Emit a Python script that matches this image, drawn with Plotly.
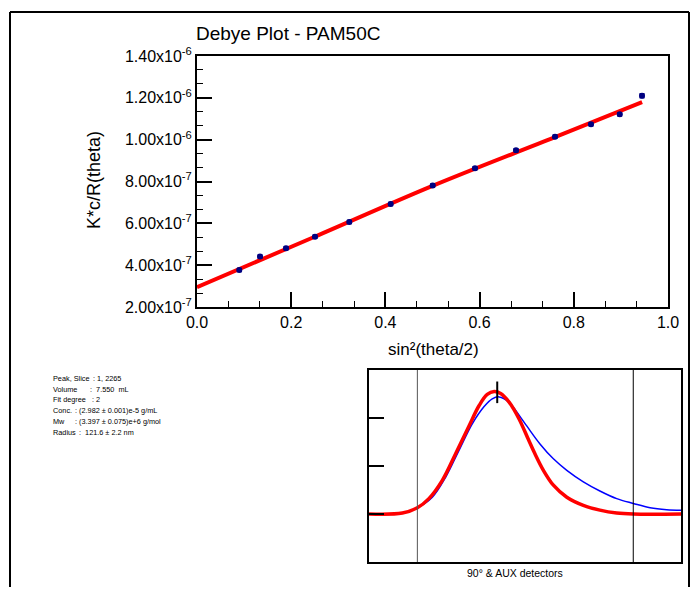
import plotly.graph_objects as go

# page is 698x595; the browser body keeps an 8px margin, so the figure is 682x579
PAGE_W, PAGE_H = 698, 595
OFF = 8
W, H = PAGE_W - 2 * OFF, PAGE_H - 2 * OFF
FONT = "Liberation Sans, Arial, sans-serif"

# ---------------- Debye plot data ----------------
sin2 = [0.0898, 0.1338, 0.1890, 0.2505, 0.3234, 0.4112, 0.5004,
        0.5902, 0.6773, 0.7601, 0.8365, 0.8975, 0.9448]
kcr = [0.377e-6, 0.441e-6, 0.481e-6, 0.536e-6, 0.6065e-6, 0.6925e-6, 0.781e-6,
       0.863e-6, 0.949e-6, 1.014e-6, 1.0735e-6, 1.121e-6, 1.210e-6]
kcr_err = [0.011e-6, 0.011e-6, 0.011e-6, 0.011e-6, 0.011e-6, 0.011e-6, 0.011e-6,
           0.011e-6, 0.011e-6, 0.011e-6, 0.011e-6, 0.011e-6, 0.013e-6]
fit_x = [0.0, 0.25, 0.5, 0.76, 0.945]
fit_y = [0.295e-6, 0.536e-6, 0.779e-6, 1.012e-6, 1.179e-6]

y_tickvals = [2e-7, 4e-7, 6e-7, 8e-7, 1.0e-6, 1.2e-6, 1.4e-6]
y_ticktext = ["2.00x10<sup>-7</sup>", "4.00x10<sup>-7</sup>", "6.00x10<sup>-7</sup>",
              "8.00x10<sup>-7</sup>", "1.00x10<sup>-6</sup>", "1.20x10<sup>-6</sup>",
              "1.40x10<sup>-6</sup>"]
x_tickvals = [0.0, 0.2, 0.4, 0.6, 0.8, 1.0]
x_ticktext = ["0.0", "0.2", "0.4", "0.6", "0.8", "1.0"]

# ---------------- Detector inset data ----------------
red_x = [0, 10.7, 15.5, 19.2, 23.5, 27.8, 32.1, 35.3, 37.9, 40.1, 42.2, 44.9,
         48.1, 51.1, 53.0, 55.9, 59.1, 63.4, 68.7, 74.0, 79.4, 84.7, 100]
red_y = [1.00, 1.02, 1.13, 1.32, 1.70, 2.26, 2.84, 3.26, 3.49, 3.55, 3.51, 3.33,
         2.98, 2.55, 2.28, 1.91, 1.60, 1.35, 1.18, 1.08, 1.02, 1.00, 1.00]
blue_x = [0, 10.7, 15.5, 20.3, 24.6, 28.8, 33.1, 36.9, 39.5, 41.7, 44.9, 46.3,
          50.5, 54.8, 59.1, 63.4, 68.7, 74.0, 79.4, 84.7, 90.1, 95.4, 100]
blue_y = [1.00, 1.02, 1.13, 1.35, 1.77, 2.32, 2.88, 3.24, 3.40, 3.44, 3.33, 3.22,
          2.84, 2.46, 2.15, 1.91, 1.67, 1.48, 1.32, 1.22, 1.13, 1.09, 1.08]
limit_left = 15.5
limit_right = 84.7
peak_pos = 41.1
peak_mark = [3.31, 3.76]

info_labels = ["Peak, Slice", "Volume", "Fit degree", "Conc.", "Mw", "Radius"]
info_values = [": 1, 2265", ":  7.550  mL", ": 2", ": (2.982 \u00b1 0.001)e-5 g/mL",
               ": (3.397 \u00b1 0.075)e+6 g/mol", ":  121.6 \u00b1 2.2 nm"]
info_colon_px = [91, 88, 90, 73, 73, 77]
info_y_px = [378, 389, 399.5, 410.5, 421, 432]


def px(x):
    """page pixel x -> paper fraction"""
    return (x - OFF) / W


def py(y):
    """page pixel y (from top) -> paper fraction"""
    return 1 - (y - OFF) / H


fig = go.Figure()

fig.add_trace(go.Scatter(
    x=fit_x, y=fit_y, mode="lines", line=dict(color="#ff0000", width=4, shape="spline"),
    xaxis="x", yaxis="y", hoverinfo="skip", showlegend=False))
fig.add_trace(go.Scatter(
    x=sin2, y=kcr, mode="markers",
    marker=dict(color="#000080", size=6),
    error_y=dict(type="data", array=kcr_err, color="#000080", thickness=5, width=0),
    xaxis="x", yaxis="y", showlegend=False))
fig.add_trace(go.Scatter(
    x=blue_x, y=blue_y, mode="lines", line=dict(color="#0000ff", width=1.5, shape="spline"),
    xaxis="x2", yaxis="y2", showlegend=False))
fig.add_trace(go.Scatter(
    x=red_x, y=red_y, mode="lines", line=dict(color="#ff0000", width=3.5, shape="spline"),
    xaxis="x2", yaxis="y2", showlegend=False))

shapes = [
    # outer frame
    dict(type="line", xref="paper", yref="paper", x0=px(10), x1=px(10), y0=0, y1=py(12),
         line=dict(color="black", width=2)),
    dict(type="line", xref="paper", yref="paper", x0=px(10), x1=px(689), y0=py(12), y1=py(12),
         line=dict(color="black", width=2)),
    dict(type="line", xref="paper", yref="paper", x0=px(689), x1=px(689), y0=0, y1=py(12),
         line=dict(color="black", width=2)),
    # inset vertical limit lines and peak marker
    dict(type="line", xref="x2", yref="y2", x0=limit_left, x1=limit_left, y0=0, y1=4,
         line=dict(color="#555555", width=1)),
    dict(type="line", xref="x2", yref="y2", x0=limit_right, x1=limit_right, y0=0, y1=4,
         line=dict(color="black", width=1)),
    dict(type="line", xref="x2", yref="y2", x0=peak_pos, x1=peak_pos, y0=peak_mark[0], y1=peak_mark[1],
         line=dict(color="black", width=2)),
]

annotations = [
    dict(text="Debye Plot - PAM50C", xref="paper", yref="paper", x=px(288), y=py(33),
         showarrow=False, font=dict(size=19, color="black", family=FONT), xanchor="center", yanchor="middle"),
    dict(text="K*c/R(theta)", xref="paper", yref="paper", x=px(94), y=py(180), textangle=-90,
         showarrow=False, font=dict(size=18, color="black", family=FONT), xanchor="center", yanchor="middle"),
    dict(text="sin\u00b2(theta/2)", xref="paper", yref="paper", x=px(433), y=py(349),
         showarrow=False, font=dict(size=17, color="black", family=FONT), xanchor="center", yanchor="middle"),
    dict(text="90\u00b0 & AUX detectors", xref="paper", yref="paper", x=px(515), y=py(573),
         showarrow=False, font=dict(size=10.5, color="black", family=FONT), xanchor="center", yanchor="middle"),
]
for lab, val, cx, yy in zip(info_labels, info_values, info_colon_px, info_y_px):
    annotations.append(dict(text=lab, xref="paper", yref="paper", x=px(51), y=py(yy), showarrow=False,
                            font=dict(size=7.3, color="black", family=FONT), xanchor="left", yanchor="middle"))
    annotations.append(dict(text=val, xref="paper", yref="paper", x=px(cx), y=py(yy), showarrow=False,
                            font=dict(size=7.3, color="black", family=FONT), xanchor="left", yanchor="middle"))

fig.update_layout(
    template="none",
    width=W, height=H, autosize=False,
    margin=dict(l=0, r=0, t=0, b=0, pad=0, autoexpand=False),
    paper_bgcolor="white", plot_bgcolor="rgba(0,0,0,0)",
    font=dict(family=FONT, color="black"),
    showlegend=False,
    shapes=shapes, annotations=annotations,
    xaxis=dict(domain=[px(197), px(668)], anchor="y", range=[0, 1], automargin=False,
               tickvals=x_tickvals, ticktext=x_ticktext, ticks="inside", ticklen=15, tickwidth=2,
               tickcolor="black", showline=True, linecolor="black", linewidth=2, mirror=True,
               showgrid=False, zeroline=False, tickfont=dict(size=16, family=FONT, color="black"),
               minor=dict(tick0=0, dtick=0.2 / 3, ticks="inside", ticklen=6, tickwidth=1,
                          tickcolor="black", showgrid=False)),
    yaxis=dict(domain=[py(307), py(56)], anchor="x", range=[2e-7, 1.4e-6], automargin=False,
               tickvals=y_tickvals, ticktext=y_ticktext, ticks="inside", ticklen=15, tickwidth=2,
               tickcolor="black", showline=True, linecolor="black", linewidth=2, mirror=True,
               showgrid=False, zeroline=False, tickfont=dict(size=16, family=FONT, color="black"),
               minor=dict(tick0=2e-7, dtick=2e-7 / 3, ticks="inside", ticklen=6, tickwidth=1,
                          tickcolor="black", showgrid=False)),
    xaxis2=dict(domain=[px(369), px(681)], anchor="y2", range=[0, 100], automargin=False,
                showticklabels=False, ticks="", showline=True, linecolor="black", linewidth=2,
                mirror=True, showgrid=False, zeroline=False),
    yaxis2=dict(domain=[py(562), py(370)], anchor="x2", range=[0, 4], automargin=False,
                tickvals=[1, 2, 3], showticklabels=False, ticks="inside", ticklen=15, tickwidth=2,
                tickcolor="black", showline=True, linecolor="black", linewidth=2, mirror=True,
                showgrid=False, zeroline=False),
)

fig.write_html("out.html", config={"displayModeBar": False, "responsive": False})
